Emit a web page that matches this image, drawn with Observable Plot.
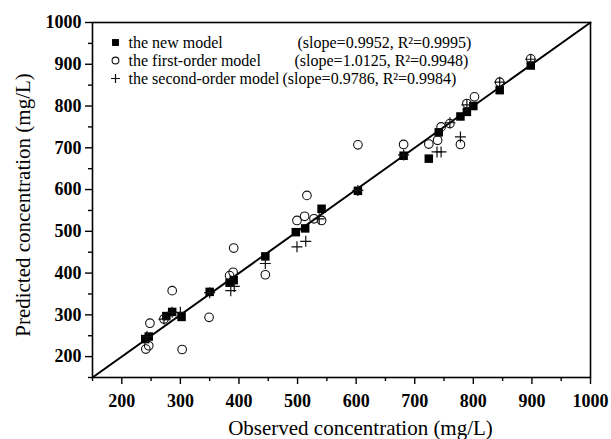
<!DOCTYPE html>
<html>
<head>
<meta charset="utf-8">
<script src="https://cdn.jsdelivr.net/npm/d3@7"></script>
<script src="https://cdn.jsdelivr.net/npm/@observablehq/plot@0.6"></script>
<style>
  html, body { margin: 0; padding: 0; background: #fff; }
  svg { display: block; }
</style>
</head>
<body>
<div id="chart"></div>
<script>
// ---- data ----
const newObs  = [240, 246, 276, 286, 302, 350, 384, 391, 445, 497, 513, 541, 603, 681, 724, 741, 778, 789, 800, 845, 898];
const newPred = [242, 248, 297, 307, 295, 355, 377, 383, 440, 498, 507, 554, 597, 681, 674, 737, 775, 786, 800, 838, 897];

const firstObs  = [241, 246, 248, 272, 286, 303, 349, 384, 390, 391, 445, 499, 512, 516, 528, 541, 603, 681, 724, 739, 745, 760, 778, 789, 802, 845, 898];
const firstPred = [218, 226, 280, 290, 358, 217, 294, 394, 402, 460, 396, 526, 536, 586, 530, 526, 707, 708, 709, 718, 750, 758, 708, 806, 822, 857, 913];

const secondObs  = [243, 272, 286, 300, 350, 386, 392, 445, 499, 514, 537, 603, 681, 738, 745, 760, 778, 789, 845, 898];
const secondPred = [248, 290, 306, 306, 353, 358, 368, 423, 463, 476, 530, 598, 683, 690, 690, 760, 726, 803, 857, 912];

const axisRange  = [150, 1000];
const majorTicks = [200, 300, 400, 500, 600, 700, 800, 900, 1000];
const minorTicks = [150, 250, 350, 450, 550, 650, 750, 850, 950];

const seriesNames = ["the new model", "the first-order model", "the second-order model"];
const seriesStats = ["(slope=0.9952, R\u00B2=0.9995)", "(slope=1.0125, R\u00B2=0.9948)", "(slope=0.9786, R\u00B2=0.9984)"];
const xLabel = "Observed concentration (mg/L)";
const yLabel = "Predicted concentration (mg/L)";

// ---- tables built from the arrays ----
const zip = (xs, ys) => xs.map((x, i) => ({x, y: ys[i]}));
const newData = zip(newObs, newPred);
const firstData = zip(firstObs, firstPred);
const secondData = zip(secondObs, secondPred);
const diag = axisRange.map(v => ({x: v, y: v}));

const plusSymbol = {
  draw(context, size) {
    const r = Math.sqrt(size / Math.PI);
    context.moveTo(-r, 0); context.lineTo(r, 0);
    context.moveTo(0, -r); context.lineTo(0, r);
  }
};

const FONT = "'Liberation Serif', 'Times New Roman', serif";

// legend marks
const legendRowsDy = [20, 38, 56];
const legendMarks = [];
legendMarks.push(Plot.dot([seriesNames[0]], {frameAnchor: "top-left", dx: 23, dy: legendRowsDy[0], symbol: "square", r: 3.9, fill: "#000"}));
legendMarks.push(Plot.dot([seriesNames[1]], {frameAnchor: "top-left", dx: 23, dy: legendRowsDy[1], symbol: "circle", r: 3.4, fill: "none", stroke: "#111", strokeWidth: 1.1}));
legendMarks.push(Plot.dot([seriesNames[2]], {frameAnchor: "top-left", dx: 23, dy: legendRowsDy[2], symbol: plusSymbol, r: 4.5, fill: "none", stroke: "#111", strokeWidth: 1.2}));
seriesNames.forEach((name, i) => {
  legendMarks.push(Plot.text([name], {text: d => d, frameAnchor: "top-left", textAnchor: "start", lineAnchor: "middle", dx: 36, dy: legendRowsDy[i], fontSize: 16, fill: "#000", fontFamily: FONT}));
});
const statsDx = [205, 202, 190];
seriesStats.forEach((s, i) => {
  legendMarks.push(Plot.text([s], {text: d => d, frameAnchor: "top-left", textAnchor: "start", lineAnchor: "middle", dx: statsDx[i], dy: legendRowsDy[i], fontSize: 16, fill: "#000", fontFamily: FONT}));
});

const chart = Plot.plot({
  width: 611,
  height: 439,
  marginLeft: 92,
  marginRight: 21,
  marginTop: 22,
  marginBottom: 62,
  style: {fontFamily: FONT, background: "#fff", color: "#000"},
  x: {domain: axisRange},
  y: {domain: axisRange},
  marks: [
    Plot.axisX({ticks: minorTicks, tickSize: 4, tickFormat: () => "", strokeWidth: 1.4, label: null}),
    Plot.axisY({ticks: minorTicks, tickSize: 4, tickFormat: () => "", strokeWidth: 1.4, label: null}),
    Plot.axisX({ticks: majorTicks, tickSize: 7, tickPadding: 10, strokeWidth: 1.4, fontSize: 18, fontWeight: "bold", fontFamily: FONT, label: null, tickFormat: d => String(d)}),
    Plot.axisY({ticks: majorTicks, tickSize: 7, tickPadding: 4, strokeWidth: 1.4, fontSize: 18, fontWeight: "bold", fontFamily: FONT, label: null, tickFormat: d => String(d)}),
    Plot.frame({stroke: "#000", strokeWidth: 1.6}),
    Plot.line(diag, {x: "x", y: "y", stroke: "#000", strokeWidth: 2}),
    Plot.dot(newData, {x: "x", y: "y", symbol: "square", r: 4.8, fill: "#000"}),
    Plot.dot(firstData, {x: "x", y: "y", symbol: "circle", r: 4.3, fill: "none", stroke: "#111", strokeWidth: 1.1}),
    Plot.dot(secondData, {x: "x", y: "y", symbol: plusSymbol, r: 5.5, fill: "none", stroke: "#111", strokeWidth: 1.2}),
    ...legendMarks,
    Plot.text([xLabel], {text: d => d, frameAnchor: "bottom", textAnchor: "middle", lineAnchor: "middle", dx: 19, dy: 51, fontSize: 21, fill: "#000", fontFamily: FONT}),
    Plot.text([yLabel], {text: d => d, frameAnchor: "left", textAnchor: "middle", lineAnchor: "middle", rotate: -90, dx: -69, dy: 5, fontSize: 21, fill: "#000", fontFamily: FONT})
  ]
});
document.getElementById("chart").appendChild(chart);
</script>
</body>
</html>
